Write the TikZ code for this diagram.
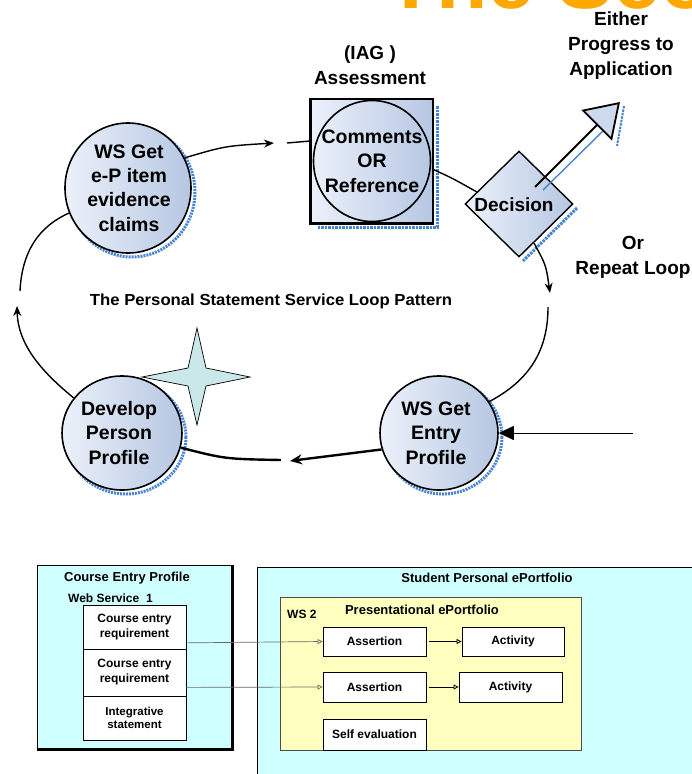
\documentclass[tikz,border=0pt]{standalone}
\usepackage{fontspec}
\setmainfont{Liberation Sans}
\usepackage{graphicx}
\usetikzlibrary{shapes.geometric,arrows.meta,calc}
\definecolor{fillL}{RGB}{236,241,250}
\definecolor{fillR}{RGB}{182,199,226}
\definecolor{shblue}{RGB}{72,132,212}
\definecolor{starcy}{RGB}{202,232,234}
\definecolor{titleor}{RGB}{255,168,0}
\definecolor{cyanbg}{RGB}{208,255,255}
\definecolor{yelbg}{RGB}{255,255,192}
\definecolor{linkgrey}{RGB}{105,105,105}
\definecolor{headfill}{RGB}{205,218,238}
\begin{document}
\begin{tikzpicture}[x=1pt,y=-1pt,
  bubble/.style={ellipse, draw=black, line width=1.6pt, left color=fillL, right color=fillR, inner sep=0pt},
  ctext/.style={align=center, inner sep=0pt, font=\bfseries\fontsize{19.5}{24.4}\selectfont},
  lbl/.style={align=center, inner sep=0pt, font=\bfseries\fontsize{19}{25}\selectfont},
  cshadow/.style={draw=shblue, line width=3pt, dash pattern=on 2pt off 1pt},
  sqshadow/.style={draw=shblue, line width=3pt, dash pattern=on 2.5pt off 1pt},
  loopln/.style={line width=1.4pt},
  looparrow/.style={line width=1.4pt, -{Stealth[length=10pt,width=8pt]}},
  thickarrow/.style={line width=2.4pt, -{Stealth[length=12pt,width=10pt]}},
  btitle/.style={inner sep=0pt, font=\bfseries\fontsize{13}{15}\selectfont},
  wbox/.style={rectangle, draw=black, line width=0.8pt, fill=white, inner sep=0pt, align=center, font=\bfseries\fontsize{12}{15}\selectfont},
  link/.style={draw=linkgrey, line width=0.7pt, -{Triangle[open,length=5pt,width=5pt]}},
  slink/.style={draw=black, line width=0.8pt, shorten <=3pt, -{Triangle[open,length=5pt,width=5pt]}}
]
\useasboundingbox (0,0) rectangle (692,774);
\clip (0,0) rectangle (692,774);
\fill[white] (0,0) rectangle (692,774);

% title (cut off at the top)
\node[anchor=base west, inner sep=0pt, text=titleor, font=\bfseries\fontsize{84}{84}\selectfont] (title) at (385,8) {The Sco};

% labels
\node[lbl] (iag) at (370,65) {(IAG )\\Assessment};
\node[lbl] (either) at (621,46) {Either\\Progress to\\Application};
\node[lbl] (orrep) at (633,257) {Or\\Repeat Loop};
\node[inner sep=0pt] (pattern) at (271,301) {\resizebox{362pt}{\height}{\bfseries\fontsize{16}{18}\selectfont The Personal Statement Service Loop Pattern}};

% shadows of circles
\draw[cshadow] (132,192) ellipse [x radius=63, y radius=65];
\draw[cshadow] (126,437) ellipse [x radius=60, y radius=57];
\draw[cshadow] (443,437) ellipse [x radius=59, y radius=57];

% circles
\node[bubble, minimum width=126pt, minimum height=130pt] (c1) at (128,188) {};
\node[ctext] (c1t) at ($(c1)+(1,0)$) {WS Get\\e-P item\\evidence\\claims};
\node[bubble, minimum width=120pt, minimum height=114pt] (dev) at (122,433) {};
\node[ctext] (devt) at ($(dev)+(-3,0)$) {Develop\\Person\\Profile};
\node[bubble, minimum width=118pt, minimum height=114pt] (ent) at (439,433) {};
\node[ctext] (entt) at ($(ent)+(-3,0)$) {WS Get\\Entry\\Profile};

% assessment square
\draw[sqshadow] (437,106) -- (437,227) -- (318,227);
\node[rectangle, draw=black, line width=1.2pt, left color=fillL, right color=fillR, minimum width=122pt, minimum height=124pt, inner sep=0pt] (sq) at (372,161) {};
\draw[line width=3pt] (sq.north west) -- (sq.south west) -- (sq.south east);
\node[ellipse, draw=black, line width=1.6pt, minimum width=117pt, minimum height=121pt, inner sep=0pt] (cmt) at (sq) {};
\node[ctext] (cmtt) at (cmt) {Comments\\OR\\Reference};

% decision diamond
\draw[sqshadow] (577,208) -- (523,261);
\node[diamond, draw=black, line width=1.4pt, left color=fillL, right color=fillR, minimum width=108pt, minimum height=106pt, inner sep=0pt] (dec) at (519,204) {};
\node[lbl] (dect) at ($(dec)+(-5,1)$) {Decision};

% progress arrow
\coordinate (ap0) at (535,187);
\coordinate (ap1) at (620,102);
\draw[shblue, line width=1.4pt] ($(ap0)+(8,3)$) -- ($(ap1)+(-17,29)$);
\draw[sqshadow, line width=2pt] ($(ap1)+(4,4)$) -- ($(ap1)+(-3,44)$);
\draw[line width=2pt, -{Triangle[length=33pt,width=43pt,fill=headfill,line width=1.8pt]}] (ap0) -- (ap1);

% star
\draw[fill=starcy, line width=0.7pt] (197,328) -- (206,368) -- (250,377) -- (206,386) -- (197,425) -- (188,386) -- (142,377) -- (188,368) -- cycle;

% loop connectors
\coordinate (g1) at (274,143);
\coordinate (g1b) at (287,143);
\draw[looparrow] (c1.28) .. controls (225,146) .. (g1);
\draw[loopln] (g1b) -- (sq.162);
\draw[loopln] (sq.-8) .. controls (452,178) .. (dec.164);
\coordinate (g2) at (550,293);
\coordinate (g2b) at (548,307);
\draw[looparrow] (dec.-69) .. controls (546,265) .. (g2);
\draw[loopln] (g2b) .. controls (548,350) and (530,380) .. (ent.32);
\coordinate (ein) at (633,433);
\draw[line width=1pt, -{Triangle[length=15pt,width=14pt]}] (ein) -- (ent.east);
\coordinate (g3) at (290,461);
\coordinate (g3b) at (281,460);
\draw[thickarrow] (ent.196) .. controls (340,454) .. (g3);
\draw[line width=2.4pt] (g3b) .. controls (225,459) .. (dev.-14);
\coordinate (g4) at (17,306);
\coordinate (g4b) at (20,291);
\draw[looparrow] (dev.144) .. controls (42,372) and (18,345) .. (g4);
\draw[loopln] (g4b) .. controls (22,250) and (40,226) .. (c1.203);

% ===== bottom part =====
\node[rectangle, draw=black, line width=0.8pt, fill=cyanbg, minimum width=195pt, minimum height=184pt, inner sep=0pt] (cep) at (134.5,657) {};
\draw[line width=3pt] (cep.north east) -- (cep.south east) -- (cep.south west);
\node[btitle] (cept) at (127,578) {Course Entry Profile};
\node[btitle, anchor=west, font=\bfseries\fontsize{12}{14}\selectfont] (ws1) at (68,598) {Web Service\ \ 1};
\node[wbox, minimum width=103pt, minimum height=44pt] (b1) at (134.5,627) {Course entry\\requirement};
\node[wbox, minimum width=103pt, minimum height=47pt] (b2) at (134.5,672.5) {Course entry\\requirement};
\node[wbox, minimum width=103pt, minimum height=44pt, font=\bfseries\fontsize{11.5}{13.5}\selectfont] (b3) at (134.5,718) {Integrative\\statement};

\node[rectangle, draw=black, line width=0.8pt, fill=cyanbg, anchor=north west, minimum width=460pt, minimum height=230pt, inner sep=0pt] (spe) at (257,567) {};
\node[btitle] (spet) at (487,578) {Student Personal ePortfolio};
\node[rectangle, draw=black!70, line width=0.8pt, fill=yelbg, anchor=north west, minimum width=301pt, minimum height=153pt, inner sep=0pt] (pep) at (280,597) {};
\node[btitle, anchor=west, font=\bfseries\fontsize{12}{14}\selectfont] (ws2) at (287,614) {WS 2};
\node[btitle, font=\bfseries\fontsize{13}{15}\selectfont] (pept) at (422,610) {Presentational ePortfolio};

\node[wbox, minimum width=103pt, minimum height=29pt] (asr1) at (374.5,641.5) {Assertion};
\node[wbox, minimum width=102pt, minimum height=29pt] (act1) at (513,641.5) {Activity};
\node[wbox, minimum width=103pt, minimum height=30pt] (asr2) at (374.5,687) {Assertion};
\node[wbox, minimum width=103pt, minimum height=30pt] (act2) at (510.5,687) {Activity};
\node[wbox, minimum width=103pt, minimum height=31pt] (self) at (374.5,734.5) {Self evaluation};

\draw[link] (b1.-17) -- (asr1.west);
\draw[link] (b2.-16) -- (asr2.west);
\draw[slink] (asr1.east) -- (act1.west);
\draw[slink] (asr2.east) -- (act2.west);
\end{tikzpicture}
\end{document}
